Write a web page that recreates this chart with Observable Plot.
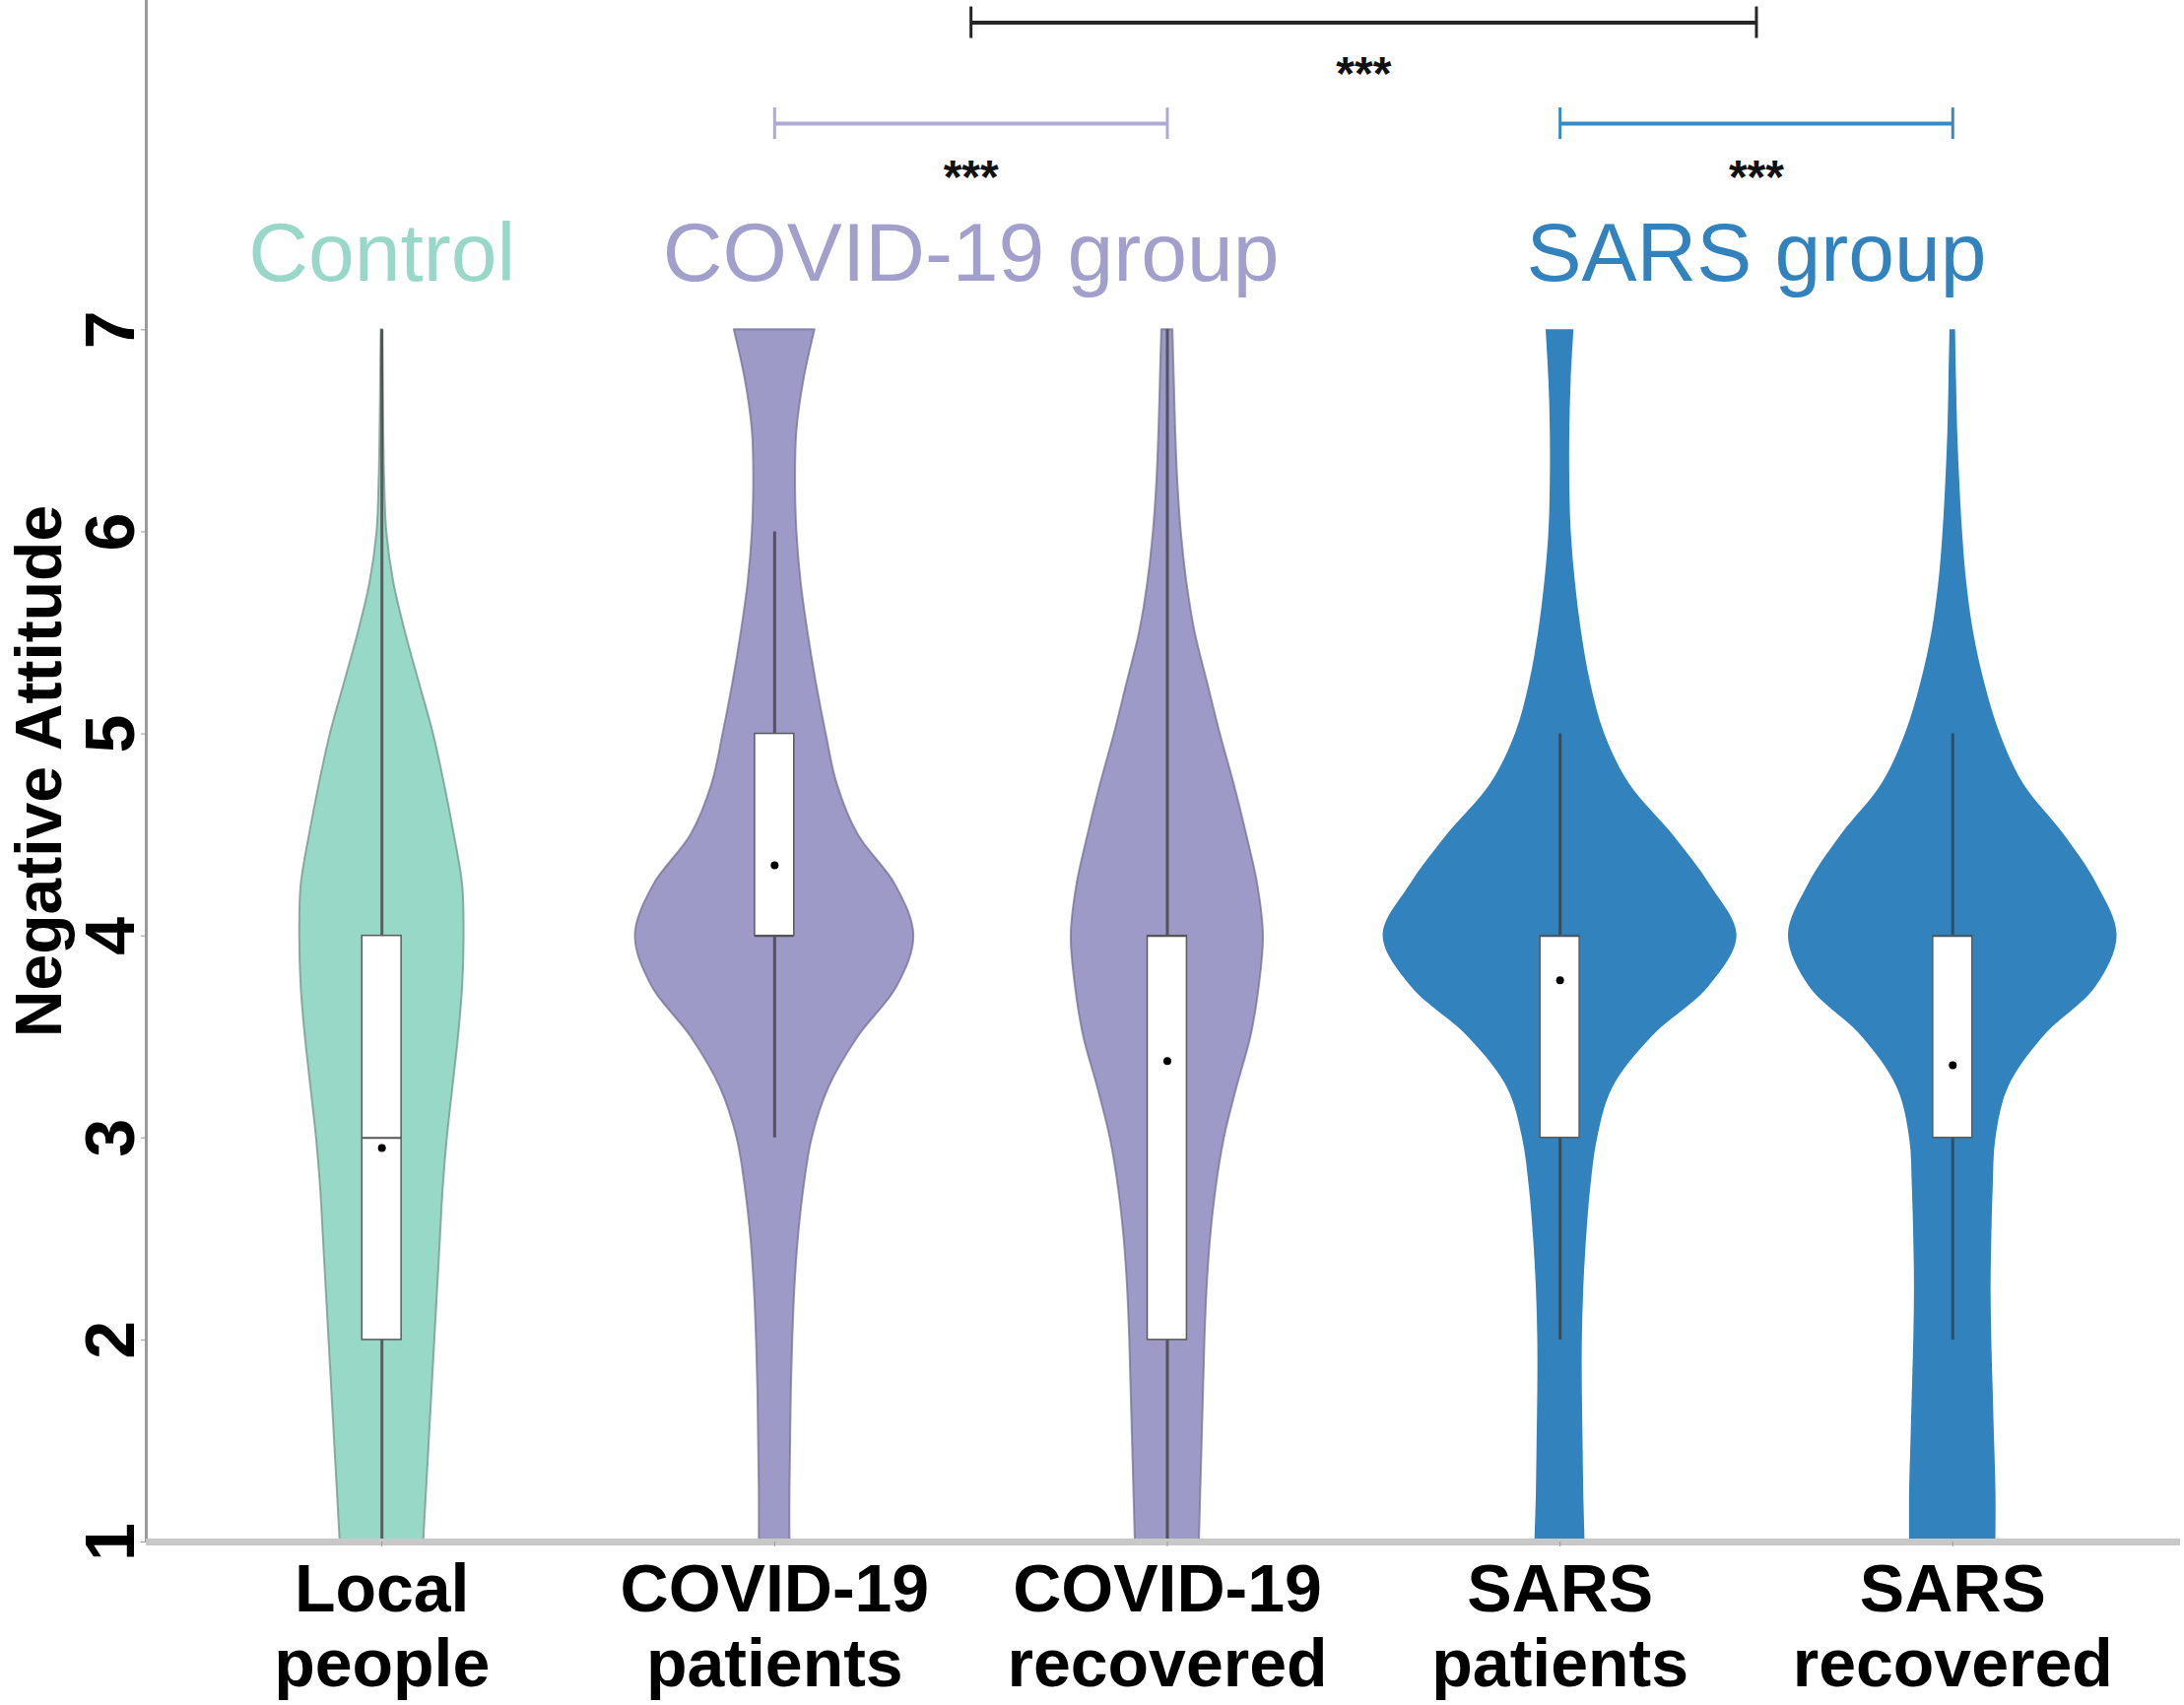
<!DOCTYPE html>
<html>
<head>
<meta charset="utf-8">
<script src="https://cdn.jsdelivr.net/npm/d3@7"></script>
<script src="https://cdn.jsdelivr.net/npm/@observablehq/plot@0.6"></script>
<style>
  html, body { margin: 0; padding: 0; background: #ffffff; }
  #chart svg { display: block; }
</style>
</head>
<body>
<div id="chart"></div>
<script>
// ---------------- data ----------------
const categories = ["Local\npeople", "COVID-19\npatients", "COVID-19\nrecovered", "SARS\npatients", "SARS\nrecovered"];
const groupOf = ["Control", "COVID-19 group", "COVID-19 group", "SARS group", "SARS group"];
const groupNames = ["Control", "COVID-19 group", "SARS group"];

// score levels at which the violin widths were read
const levels = [1, 1.25, 1.5, 1.75, 2, 2.25, 2.5, 2.75, 3, 3.25, 3.5, 3.75, 4, 4.25, 4.5, 4.75, 5, 5.25, 5.5, 5.75, 6, 6.25, 6.5, 6.75, 7];
// relative density (half-width) per category at each level
const densLocal    = [30, 32, 34, 36, 38, 40, 42, 44, 47, 51, 55, 58, 59, 58, 52, 45, 37, 27, 17, 8.5, 3.5, 2, 1.3, 0.9, 0.5];
const densCovidPat = [11, 11, 11.5, 12, 13, 14.5, 17, 21, 27, 39, 60, 88, 100, 87, 60, 45, 37, 30, 24, 19, 16, 15, 16, 21, 29];
const densCovidRec = [23, 24, 25, 26, 27, 28.5, 31, 35, 41, 50, 60, 66, 69, 65, 57, 48, 38, 29, 20, 14, 10, 7.5, 6, 5, 4];
const densSarsPat  = [18, 17, 16.5, 16, 16, 17, 19, 22, 27, 38, 66, 107, 127, 108, 81, 50, 32, 22, 15.5, 11, 8, 7, 7, 8, 10];
const densSarsRec  = [31, 31, 30, 29, 28, 27.5, 28, 29, 31, 40, 65, 103, 118, 104, 80, 51, 34, 23, 15, 10, 7, 5, 3.5, 2.7, 2];
const densities = [densLocal, densCovidPat, densCovidRec, densSarsPat, densSarsRec];

const q1 = [2, 4, 2, 3, 3];
const q3 = [4, 5, 4, 4, 4];
const medians = [3, 4, 4, 4, 4];
const means = [2.95, 4.35, 3.38, 3.78, 3.36];
const whiskerLow = [1, 3, 1, 2, 2];
const whiskerHigh = [7, 6, 7, 5, 5];

// significance comparisons (category positions 1..5)
const bracketFrom = [2, 4, 2.5];
const bracketTo = [3, 5, 4.5];
const bracketLabel = ["***", "***", "***"];
const bracketGroup = ["COVID-19 group", "SARS group", "all"];

const yTicks = [1, 2, 3, 4, 5, 6, 7];

// ---------------- styles ----------------
const violinFill = {"Control": "#98d8c6", "COVID-19 group": "#9e9ac8", "SARS group": "#3182bd"};
const violinStroke = {"Control": "#6d8f86", "COVID-19 group": "#6f6c92", "SARS group": "none"};
const labelFill = {"Control": "#99d8c9", "COVID-19 group": "#a39fcd", "SARS group": "#3182bd"};
const bracketColor = {"COVID-19 group": "#aea9d8", "SARS group": "#3889c4", "all": "#262626"};
const densityToX = 1 / 282;   // density units -> category steps
const boxHalf = 0.05;

// ---------------- derived tables ----------------
const violinRows = [];
densities.forEach((dens, i) => {
  levels.forEach((v, j) => {
    violinRows.push({cat: categories[i], idx: i + 1, group: groupOf[i], v, d: dens[j]});
  });
});
const idx = d3.range(categories.length);
const groupCenters = groupNames.map(g => d3.mean(idx.filter(i => groupOf[i] === g), i => i + 1));

const brackets = bracketFrom.map((f, i) => ({
  from: f, to: bracketTo[i], label: bracketLabel[i], group: bracketGroup[i],
  y: bracketGroup[i] === "all" ? 8.52 : 8.02,
  starOffset: bracketGroup[i] === "all" ? 0.258 : 0.27
}));
const bracketEnds = brackets.flatMap(b => [{x: b.from, y: b.y, group: b.group}, {x: b.to, y: b.y, group: b.group}]);

const font = "'Liberation Sans', Arial, Helvetica, sans-serif";

const chart = Plot.plot({
  width: 2217,
  height: 1731,
  marginLeft: 148,
  marginRight: 4,
  marginTop: 0,
  marginBottom: 166,
  style: {fontFamily: font, background: "#ffffff", overflow: "visible"},
  x: {type: "linear", domain: [0.4, 5.58]},
  y: {domain: [1, 8.63]},
  color: {type: "identity"},
  marks: [
    // violins
    Plot.areaX(violinRows, {
      y: "v",
      x1: d => d.idx - d.d * densityToX,
      x2: d => d.idx + d.d * densityToX,
      z: "cat",
      fill: d => violinFill[d.group],
      stroke: d => violinStroke[d.group],
      strokeWidth: 2,
      strokeOpacity: 0.7,
      curve: "catmull-rom"
    }),
    // whiskers
    Plot.ruleX(idx, {x: i => i + 1, y1: i => whiskerLow[i], y2: i => whiskerHigh[i], stroke: "#3a3a3a", strokeOpacity: 0.75, strokeWidth: 3}),
    // boxes
    Plot.rect(idx, {x1: i => i + 1 - boxHalf, x2: i => i + 1 + boxHalf, y1: i => q1[i], y2: i => q3[i], fill: "#ffffff", stroke: "#5a5a5a", strokeWidth: 1.5}),
    Plot.ruleY(idx, {y: i => medians[i], x1: i => i + 1 - boxHalf, x2: i => i + 1 + boxHalf, stroke: "#555555", strokeWidth: 2}),
    Plot.dot(idx, {x: i => i + 1, y: i => means[i], r: 4, fill: "#000000"}),
    // axis lines
    Plot.ruleX([0.4], {stroke: "#9a9a9a", strokeWidth: 3}),
    Plot.ruleY([1], {stroke: "#c8c8c8", strokeWidth: 7}),
    // axes
    Plot.axisX({
      ticks: [1, 2, 3, 4, 5],
      tickFormat: t => categories[t - 1],
      tickSize: 5,
      tickPadding: 11,
      fontSize: 68,
      fontWeight: "bold",
      lineHeight: 1.12,
      fill: "#000000",
      stroke: "#999999",
      label: null
    }),
    Plot.axisY({
      ticks: yTicks,
      tickRotate: -90,
      tickSize: 5,
      tickPadding: 8,
      fontSize: 70,
      fontWeight: "bold",
      fill: "#000000",
      stroke: "#999999",
      label: null
    }),
    Plot.text(["Negative Attitude"], {
      frameAnchor: "left",
      text: d => d,
      dx: -108,
      rotate: -90,
      fontSize: 66,
      fontWeight: "bold",
      textAnchor: "middle",
      lineAnchor: "middle",
      fill: "#000000"
    }),
    // group labels
    Plot.text(groupNames, {
      x: (g, i) => groupCenters[i],
      y: 7.375,
      text: d => d,
      fill: g => labelFill[g],
      fontSize: 84,
      textAnchor: "middle",
      lineAnchor: "middle"
    }),
    // significance brackets
    Plot.ruleY(brackets, {y: "y", x1: "from", x2: "to", stroke: b => bracketColor[b.group], strokeWidth: 4}),
    Plot.ruleX(bracketEnds, {x: "x", y1: e => e.y - 0.078, y2: e => e.y + 0.078, stroke: e => bracketColor[e.group], strokeWidth: 3}),
    Plot.text(brackets, {
      x: b => (b.from + b.to) / 2,
      y: b => b.y - b.starOffset,
      text: "label",
      fontSize: 48,
      fontWeight: "bold",
      fill: "#111111",
      textAnchor: "middle",
      lineAnchor: "middle"
    })
  ]
});

document.getElementById("chart").appendChild(chart);
</script>
</body>
</html>
